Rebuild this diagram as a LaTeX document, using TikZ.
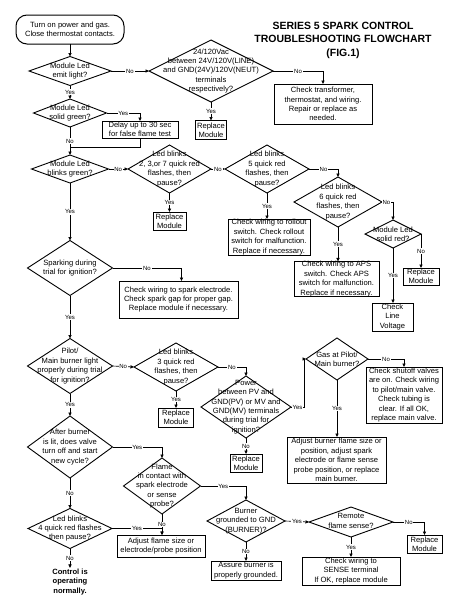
\documentclass[tikz,border=0pt]{standalone}
\usepackage{fontspec}
\setmainfont{Liberation Sans}
\usetikzlibrary{shapes.geometric,arrows.meta}
\newcommand\fsz[2]{\fontsize{#1}{#2}\selectfont}
\begin{document}
\begin{tikzpicture}[x=1pt,y=-1pt,
  every node/.style={inner sep=0pt, outer sep=0pt},
  txt/.style={font=\fsz{7.6}{9.4}, align=center, text=black},
  pbox/.style 2 args={draw, line width=1pt, minimum width=#1, minimum height=#2, font=\fsz{7.6}{9.4}, align=center},
  dmd/.style 2 args={diamond, draw, line width=0.9pt, minimum width=#1, minimum height=#2},
  lab/.style={font=\fsz{6}{7}, fill=white, inner sep=0.7pt},
  con/.style={line width=0.65pt, -{Triangle[length=3.5pt,width=3.2pt]}},
  seg/.style={line width=0.65pt},
]
\useasboundingbox (0,0) rectangle (467,600);

% title
\node[font=\bfseries\fsz{10.5}{13.5}, align=center] (title) at (343,40) {SERIES 5 SPARK CONTROL\\TROUBLESHOOTING FLOWCHART\\(FIG.1)};

% start
\node[draw, line width=1pt, rounded corners=11pt, minimum width=108, minimum height=29, txt] (start) at (70,29.5) {Turn on power and gas.\\Close thermostat contacts.};

% diamonds
\node[dmd={82}{29}] (d1) at (70,71) {};
\node[txt] (t1) at (d1) {Module Led\\emit light?};
\node[dmd={124}{62}] (d2) at (211,71) {};
\node[txt] (t2) at (d2) {24/120Vac\\between 24V/120V(LINE)\\and GND(24V)/120V(NEUT)\\terminals\\respectively?};
\node[dmd={73}{28}] (d3) at (70,113) {};
\node[txt] (t3) at (d3) {Module Led\\solid green?};
\node[dmd={77}{28}] (d4) at (70,169) {};
\node[txt] (t4) at (d4) {Module Led\\blinks green?};
\node[dmd={83}{48}] (d5) at (169.5,169) {};
\node[txt] (t5) at (d5) {Led blinks\\2, 3,or 7 quick red\\flashes, then\\pause?};
\node[dmd={84}{48}] (d6) at (267,169) {};
\node[txt] (t6) at (d6) {Led blinks\\5 quick red\\flashes, then\\pause?};
\node[dmd={88}{50}] (d7) at (338,202) {};
\node[txt] (t7) at (d7) {Led blinks\\6 quick red\\flashes, then\\pause?};
\node[dmd={56}{28}] (d8) at (393,234) {};
\node[txt] (t8) at (d8) {Module Led\\solid red?};
\node[dmd={85}{55}] (d9) at (70,268) {};
\node[txt] (t9) at (d9) {Sparking during\\trial for ignition?};
\node[dmd={85}{55}] (d10) at (70,366) {};
\node[txt] (t10) at (d10) {Pilot/\\Main burner light\\properly during trial\\for ignition?};
\node[dmd={84}{48}] (d11) at (176,367) {};
\node[txt] (t11) at (d11) {Led blinks\\3 quick red\\flashes, then\\pause?};
\node[dmd={90}{62}] (d12) at (246,407) {};
\node[txt] (t12) at (d12) {Power\\between PV and\\GND(PV) or MV and\\GND(MV) terminals\\during trial for\\ignition?};
\node[dmd={62}{42}] (d13) at (337,359) {};
\node[txt] (t13) at (d13) {Gas at Pilot/\\Main burner?};
\node[dmd={85}{62}] (d14) at (70,447) {};
\node[txt] (t14) at (d14) {After burner\\is lit, does valve\\turn off and start\\new cycle?};
\node[dmd={77}{56}] (d15) at (162,486) {};
\node[txt] (t15) at (d15) {Flame\\in contact with\\spark electrode\\or sense\\probe?};
\node[dmd={78}{42}] (d16) at (246,521) {};
\node[txt] (t16) at (d16) {Burner\\grounded to GND\\(BURNER)?};
\node[dmd={84}{30}] (d17) at (351,522) {};
\node[txt] (t17) at (351,521) {Remote\\flame sense?};
\node[dmd={84}{40}] (d18) at (70,528.5) {};
\node[txt] (t18) at (d18) {Led blinks\\4 quick red flashes\\then pause?};

% boxes
\node[pbox={98}{40}] (tbox) at (323,104) {Check transformer,\\thermostat, and wiring.\\Repair or replace as\\needed.};
\node[pbox={31}{19}] (rm1) at (211,130) {Replace\\Module};
\node[pbox={76}{17}] (delay) at (140,129.5) {Delay up to 30 sec\\for false flame test};
\node[pbox={33}{18}] (rm2) at (169.5,221) {Replace\\Module};
\node[pbox={82}{36}] (roll) at (269,237) {Check wiring to rollout\\switch.  Check rollout\\switch for malfunction.\\Replace if necessary.};
\node[pbox={85}{34}] (aps) at (336.5,279) {Check wiring to APS\\switch.  Check APS\\switch for malfunction.\\Replace if necessary.};
\node[pbox={36}{17}] (rm3) at (421,276.5) {Replace\\Module};
\node[pbox={41}{28}] (lv) at (392.5,317) {Check\\Line\\Voltage};
\node[pbox={119}{37}] (spark) at (178.5,299.5) {Check wiring to spark electrode.\\Check spark gap for proper gap.\\Replace module if necessary.};
\node[pbox={35}{19}] (rm4) at (176,417.5) {Replace\\Module};
\node[pbox={32}{18}] (rm5) at (246,463) {Replace\\Module};
\node[pbox={76}{56}] (shut) at (404,395) {Check shutoff valves\\are on.  Check wiring\\to pilot/main valve.\\Check tubing is\\clear.  If all OK,\\replace main valve.};
\node[pbox={99}{46}] (adjb) at (336.5,460) {Adjust burner flame size or\\position, adjust spark\\electrode or flame sense\\probe position, or replace\\main burner.};
\node[pbox={88}{22}] (adjf) at (161,546) {Adjust flame size or\\electrode/probe position};
\node[pbox={70}{19}] (assure) at (246,570.5) {Assure burner is\\properly grounded.};
\node[pbox={35}{18}] (rm6) at (424.5,544) {Replace\\Module};
\node[pbox={98}{28}] (sense) at (351,571) {Check wiring to\\SENSE terminal\\If OK, replace module};
\node[font=\bfseries\fsz{7.6}{9.6}, align=center] (endt) at (70,582) {Control is\\operating\\normally.};

\coordinate (m1) at (70,147);

% connectors
\draw[con] (start) -- (d1);
\draw[con] (d1.east) -- node[lab]{No} (d2.west);
\draw[con] (d2.east) -| node[lab,pos=0.25]{No} (tbox.north);
\draw[con] (d2.south) -- node[lab]{Yes} (rm1.north);
\draw[con] (d1.south) -- node[lab]{Yes} (d3.north);
\draw[con] (d3.east) -| node[lab,pos=0.25]{Yes} (delay.north);
\draw[con] (d3.south) -- node[lab,pos=0.5]{No} (d4.north);
\draw[seg] (delay.south) |- (m1);
\draw[con] (d4.east) -- node[lab]{No} (d5.west);
\draw[con] (d5.south) -- node[lab]{Yes} (rm2.north);
\draw[con] (d5.east) -- node[lab]{No} (d6.west);
\draw[con] (d6.south) -- node[lab]{Yes} (d6.south |- roll.north);
\draw[con] (d6.east) -| node[lab,pos=0.25]{No} (d7.north);
\draw[con] (d7.south) -- node[lab]{Yes} (d7.south |- aps.north);
\draw[con] (d7.east) -| node[lab,pos=0.2]{No} (d8.north);
\draw[con] (d8.east) -- node[lab]{No} (rm3.north);
\draw[con] (d8.south) -- node[lab]{Yes} (d8.south |- lv.north);
\draw[con] (d4.south) -- node[lab]{Yes} (d9.north);
\draw[con] (d9.east) -| node[lab,pos=0.25]{No} ([xshift=3pt]spark.north);
\draw[con] (d9.south) -- node[lab]{Yes} (d10.north);
\draw[con] (d10.east) -- node[lab]{No} (d11.west);
\draw[con] (d11.south) -- node[lab]{Yes} (rm4.north);
\draw[con] (d11.east) -| node[lab,pos=0.25]{No} (d12.north);
\draw[con] (d12.south) -- node[lab]{No} (rm5.north);
\draw[con] (d12.east) -- node[lab]{Yes} ++(13,0) |- (d13.west);
\draw[con] (d13.east) -| node[lab,pos=0.25]{No} (shut.north);
\draw[con] (d13.south) -- node[lab]{Yes} (d13.south |- adjb.north);
\draw[con] (d10.south) -- node[lab]{Yes} (d14.north);
\draw[con] (d14.east) -| node[lab,pos=0.25]{Yes} (d15.north);
\draw[con] (d15.south) -- node[lab]{No} (d15.south |- adjf.north);
\draw[con] (d14.south) -- node[lab]{No} (d18.north);
\draw[con] (d18.east) -| node[lab,pos=0.25]{Yes} (d15.south |- adjf.north);
\draw[con] (d15.east) -| node[lab,pos=0.25]{Yes} (d16.north);
\draw[con] (d16.south) -- node[lab]{No} (assure.north);
\draw[con] (d16.east) -- node[lab]{Yes} (d17.west);
\draw[con] (d17.east) -| node[lab,pos=0.25]{No} (rm6.north);
\draw[con] (d17.south) -- node[lab]{Yes} (sense.north);
\draw[con] (d18.south) -- node[lab]{No} ([yshift=1pt]endt.north);
\end{tikzpicture}
\end{document}
